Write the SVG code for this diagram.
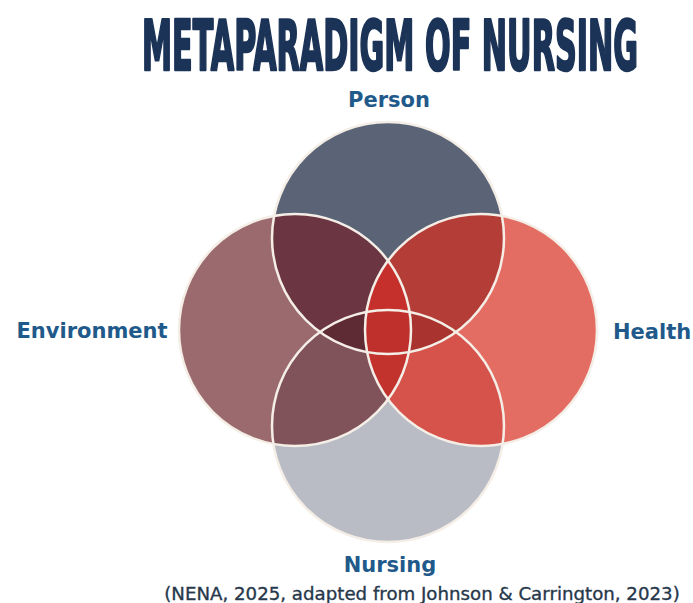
<svg xmlns="http://www.w3.org/2000/svg" width="693" height="603" viewBox="0 0 693 603">
<style>
.lbl{font-family:"DejaVu Sans",Verdana,sans-serif;font-weight:bold;font-size:21px;fill:#1f5a8b}
.cap{font-family:"DejaVu Sans",Verdana,sans-serif;font-size:18.2px;fill:#27384b;stroke:#27384b;stroke-width:0.35}
.ttl{font-family:"DejaVu Sans Condensed","DejaVu Sans",sans-serif;font-stretch:condensed;font-weight:bold;font-size:34px;fill:#1b3357;stroke:#1b3357;stroke-width:1.3;stroke-linejoin:round}
.ring{fill:none;stroke:#f4eee7;stroke-width:2.5}
</style>
<defs>
<clipPath id="cP"><circle cx="388" cy="238" r="116"/></clipPath>
<clipPath id="cE"><circle cx="295" cy="330" r="116"/></clipPath>
<clipPath id="cH"><circle cx="481" cy="330" r="116"/></clipPath>
<clipPath id="cN"><circle cx="388" cy="426" r="116"/></clipPath>
</defs>
<rect width="693" height="603" fill="#ffffff"/>
<text class="ttl" x="0" y="0" text-anchor="middle" textLength="496" lengthAdjust="spacingAndGlyphs" transform="translate(390,70) scale(1,2.03)">METAPARADIGM OF NURSING</text>
<g id="fills">
<g id="person"><circle cx="388" cy="238" r="116" fill="#5b6477"/></g>
<g id="environment"><circle cx="295" cy="330" r="116" fill="#9a6a6e"/></g>
<g id="health"><circle cx="481" cy="330" r="116" fill="#e46d63"/></g>
<g id="nursing"><circle cx="388" cy="426" r="116" fill="#b9bcc4"/></g>
<g id="overlaps">
<circle cx="295" cy="330" r="116" fill="#6b3541" clip-path="url(#cP)"/>
<circle cx="481" cy="330" r="116" fill="#b43d37" clip-path="url(#cP)"/>
<circle cx="295" cy="330" r="116" fill="#80525a" clip-path="url(#cN)"/>
<circle cx="481" cy="330" r="116" fill="#d6534b" clip-path="url(#cN)"/>
<g clip-path="url(#cP)"><circle cx="295" cy="330" r="116" fill="#5e2a33" clip-path="url(#cN)"/></g>
<g clip-path="url(#cP)"><circle cx="481" cy="330" r="116" fill="#a9342f" clip-path="url(#cN)"/></g>
<g clip-path="url(#cP)"><circle cx="295" cy="330" r="116" fill="#c5302d" clip-path="url(#cH)"/></g>
<g clip-path="url(#cN)"><circle cx="295" cy="330" r="116" fill="#c2332e" clip-path="url(#cH)"/></g>
<g clip-path="url(#cP)"><g clip-path="url(#cN)"><circle cx="295" cy="330" r="116" fill="#bf2f2b" clip-path="url(#cH)"/></g></g>
</g>
</g>
<g id="rings">
<circle class="ring" cx="388" cy="238" r="116"/>
<circle class="ring" cx="295" cy="330" r="116"/>
<circle class="ring" cx="481" cy="330" r="116"/>
<circle class="ring" cx="388" cy="426" r="116"/>
</g>
<g id="labels">
<text class="lbl" x="389" y="107" text-anchor="middle">Person</text>
<text class="lbl" x="92" y="338" text-anchor="middle">Environment</text>
<text class="lbl" x="613" y="339">Health</text>
<text class="lbl" x="390" y="572" text-anchor="middle">Nursing</text>
<text class="cap" x="422" y="600" text-anchor="middle">(NENA, 2025, adapted from Johnson &amp; Carrington, 2023)</text>
</g>
</svg>
